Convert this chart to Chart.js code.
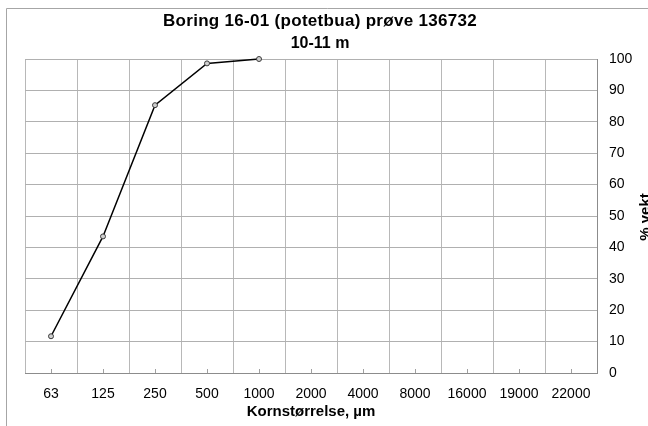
<!DOCTYPE html>
<html>
<head>
<meta charset="utf-8">
<script src="https://cdn.jsdelivr.net/npm/chart.js@4"></script>
<style>
  body { margin: 0; background: #fff; }
  canvas { display: block; }
</style>
</head>
<body>
<canvas id="chart-korn" width="648" height="426"></canvas>
<script>
var sikter = ['63', '125', '250', '500', '1000', '2000', '4000', '8000', '16000', '19000', '22000'];
var passert = [11.7, 43.5, 85.3, 98.6, 100, null, null, null, null, null, null];
var yTicks = [0, 10, 20, 30, 40, 50, 60, 70, 80, 90, 100];
var tittel = ['Boring 16-01 (potetbua) prøve 136732', '10-11 m'];
var xTittel = 'Kornstørrelse, µm';
var yTittel = '% vekt';

var FONT = '"Liberation Sans", Arial, sans-serif';

// ramme, tittel, y-tittel og små innvendige tick-streker
var tekster = {
    id: 'tekster',
    beforeDraw: function(chart) {
        var ctx = chart.ctx;
        ctx.save();
        ctx.strokeStyle = '#a6a6a6';
        ctx.lineWidth = 1;
        ctx.beginPath();
        ctx.moveTo(6.5, 430);
        ctx.lineTo(6.5, 8.5);
        ctx.lineTo(660, 8.5);
        ctx.stroke();
        ctx.restore();
    },
    afterDraw: function(chart) {
        var ctx = chart.ctx;
        var x = chart.scales.x;
        var area = chart.chartArea;
        ctx.save();
        ctx.fillStyle = '#000';
        ctx.textAlign = 'center';
        ctx.textBaseline = 'alphabetic';
        ctx.font = 'bold 17px ' + FONT;
        ctx.letterSpacing = '0.3px';
        ctx.fillText(tittel[0], 320, 26);
        ctx.letterSpacing = '0px';
        ctx.font = 'bold 16px ' + FONT;
        ctx.fillText(tittel[1], 320, 48);

        ctx.font = 'bold 15px ' + FONT;
        ctx.translate(650, 217);
        ctx.rotate(-Math.PI / 2);
        ctx.fillText(yTittel, 0, 0);
        ctx.restore();

        ctx.save();
        ctx.strokeStyle = '#a0a0a0';
        ctx.lineWidth = 1;
        ctx.beginPath();
        sikter.forEach(function(s, i) {
            var px = Math.round(x.getPixelForValue(i)) + 0.5;
            ctx.moveTo(px, area.bottom);
            ctx.lineTo(px, area.bottom - 4);
        });
        ctx.stroke();
        ctx.restore();
    }
};

new Chart(document.getElementById('chart-korn'), {
    type: 'line',
    data: {
        labels: sikter,
        datasets: [{
            data: passert,
            borderColor: '#000',
            borderWidth: 1.5,
            pointRadius: 2.5,
            pointBackgroundColor: '#cfcfcf',
            pointBorderColor: '#3a3a3a',
            pointBorderWidth: 1,
            tension: 0,
            spanGaps: false,
            clip: false
        }]
    },
    options: {
        responsive: false,
        animation: false,
        layout: { padding: { left: 25, right: 0, top: 59, bottom: 0 } },
        plugins: {
            legend: { display: false },
            tooltip: { enabled: false }
        },
        scales: {
            x: {
                offset: true,
                grid: { offset: true, color: '#b8b8b8', drawTicks: false },
                border: { color: '#8c8c8c' },
                ticks: { color: '#000', font: { family: FONT, size: 14 }, padding: 13, maxRotation: 0, autoSkip: false },
                title: { display: true, text: xTittel, color: '#000', font: { family: FONT, size: 15, weight: 'bold' }, padding: { top: 0, bottom: 5 } },
                afterFit: function(scale) { scale.height = 53; }
            },
            y: {
                position: 'right',
                min: 0,
                max: 100,
                afterBuildTicks: function(scale) {
                    scale.ticks = yTicks.map(function(v) { return { value: v }; });
                },
                grid: { color: '#b0b0b0', drawTicks: false },
                border: { color: '#8c8c8c' },
                ticks: { color: '#000', font: { family: FONT, size: 14 }, padding: 12 },
                afterFit: function(scale) { scale.width = 51; }
            }
        }
    },
    plugins: [tekster]
});
</script>
</body>
</html>
